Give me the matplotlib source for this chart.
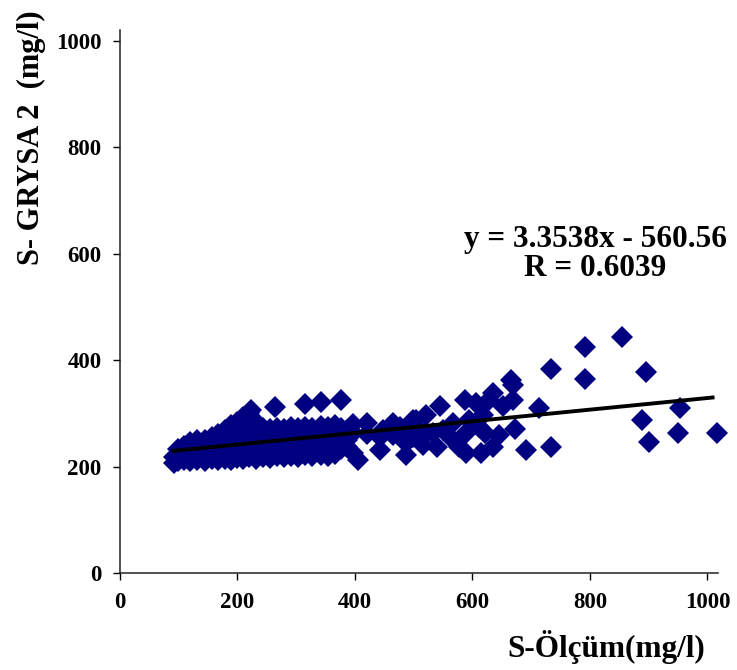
import matplotlib
matplotlib.use("Agg")
import matplotlib.pyplot as plt

s_olcum = [
    92, 92,
    100, 100, 100,
    110, 110, 110,
    120, 120, 120, 120,
    132, 132, 132, 132,
    145, 145, 145, 145,
    157, 157, 157, 157,
    168, 168, 168, 168, 168,
    180, 180, 180, 180, 180,
    190, 190, 190, 190, 190, 190,
    200, 200, 200, 200, 200, 200,
    210, 210, 210, 210, 210, 210, 210,
    220, 220, 220, 220, 220, 220, 220,
    224,
    232, 232, 232, 232, 232, 232,
    244, 244, 244, 244, 244,
    256, 256, 256, 256, 256,
    264,
    268, 268, 268, 268, 268,
    280, 280, 280, 280, 280,
    292, 292, 292, 292, 292,
    304, 304, 304, 304, 304,
    316, 316, 316, 316, 316, 316,
    328, 328, 328, 328, 328,
    342, 342, 342, 342, 342, 342,
    354, 354, 354, 354, 354,
    366, 366, 366, 366, 366,
    377, 377, 377, 377, 377,
    386, 386, 386,
    397, 397, 397,
    406,
    420, 420,
    443, 443,
    448,
    465, 465,
    477,
    488, 488, 488,
    499, 499,
    505,
    510, 510,
    516, 522, 533, 540, 545, 550,
    567, 567,
    578, 587,
    590, 590,
    595, 607, 612, 614, 618, 621, 629, 635, 636, 645, 652,
    666, 669, 669, 672, 691, 714,
    734, 734,
    791, 791,
    854, 889, 896, 900, 950, 954, 1016,
]

s_grysa2 = [
    207, 218,
    210, 222, 232,
    212, 225, 238,
    210, 222, 235, 247,
    213, 226, 240, 250,
    211, 224, 237, 250,
    214, 228, 242, 255,
    212, 225, 238, 252, 262,
    215, 228, 242, 256, 268,
    213, 226, 240, 254, 268, 278,
    216, 230, 245, 258, 272, 284,
    214, 228, 242, 256, 270, 285, 293,
    217, 231, 245, 259, 273, 287, 300,
    306,
    215, 229, 243, 257, 271, 283,
    218, 232, 246, 260, 272,
    216, 230, 244, 258, 270,
    311,
    219, 233, 247, 261, 273,
    217, 231, 245, 259, 271,
    220, 234, 248, 262, 274,
    218, 232, 246, 260, 272,
    221, 235, 249, 263, 275, 318,
    219, 233, 247, 261, 273,
    222, 236, 250, 264, 276, 322,
    220, 234, 248, 262, 274,
    224, 238, 252, 266, 278,
    232, 246, 260, 272, 325,
    237, 250, 268,
    225, 263, 280,
    212,
    281, 262,
    231, 255,
    269,
    281, 260,
    275,
    222, 244, 263,
    256, 288,
    288,
    250, 269,
    241, 297, 263, 237, 313, 269,
    250, 281,
    237, 325,
    225, 263,
    288, 319, 275, 225, 297, 263, 325, 338, 237, 259, 313,
    363, 353, 325, 270, 231, 310,
    383, 237,
    425, 364,
    444, 288, 378, 246, 263, 310, 263,
]

# Trend line end points as drawn in the reference
trend_x = [88, 1012]
trend_y = [229, 330]

equation_text = "y = 3.3538x - 560.56\nR = 0.6039"
x_ticks = [0, 200, 400, 600, 800, 1000]
y_ticks = [0, 200, 400, 600, 800, 1000]

serif = ["Liberation Serif", "DejaVu Serif"]
plt.rcParams["font.family"] = serif
plt.rcParams["font.weight"] = "bold"

fig = plt.figure(figsize=(7.37, 6.70), dpi=100)
ax = fig.add_axes([0.1623, 0.1448, 0.812, 0.8104])

ax.plot(s_olcum, s_grysa2, linestyle="none", marker="D", markersize=11,
        color="#000080", markeredgewidth=0, clip_on=False, zorder=2)
ax.plot(trend_x, trend_y, color="black", linewidth=2.8, zorder=3,
        solid_capstyle="butt")

ax.set_xlim(0, 1018)
ax.set_ylim(0, 1020)
ax.set_xticks(x_ticks)
ax.set_yticks(y_ticks)
ax.tick_params(axis="both", direction="out", length=5, width=1.0,
               labelsize=16.5, colors="black")
ax.tick_params(axis="x", pad=9)
ax.tick_params(axis="y", pad=8)
for lbl in ax.get_xticklabels() + ax.get_yticklabels():
    lbl.set_fontweight("bold")

for side in ("top", "right"):
    ax.spines[side].set_visible(False)
for side in ("left", "bottom"):
    ax.spines[side].set_linewidth(1.1)
    ax.spines[side].set_color("#222222")

ax.text(0.795, 0.5875, equation_text, transform=ax.transAxes, ha="center",
        va="center", fontsize=22.5, fontweight="bold", linespacing=1.0)

fig.text(31 / 737, 1 - 138 / 670, "S- GRYSA 2  (mg/l)", rotation=90,
         ha="center", va="center", fontsize=22, fontweight="bold")
fig.text(606 / 737, 1 - 647 / 670, "S-Ölçüm(mg/l)", ha="center",
         va="center", fontsize=22.5, fontweight="bold")

fig.savefig("out.png", dpi=100)
